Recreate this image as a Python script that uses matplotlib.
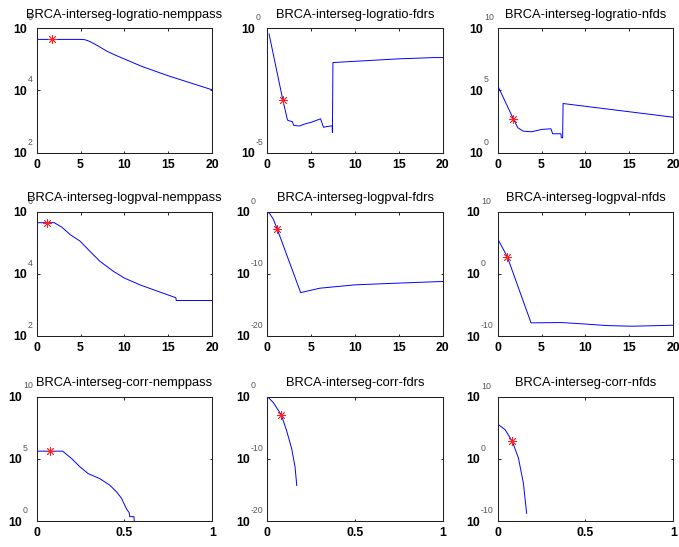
import matplotlib
matplotlib.use("Agg")
import matplotlib.pyplot as plt
from matplotlib.transforms import offset_copy

plt.rcParams['font.family'] = ['Liberation Sans', 'DejaVu Sans']

# curves are stored as (x, log10(y)); the y axes are logarithmic
lr_nemppass_x = [0, 1, 2, 3, 4, 5, 5.5, 6, 7, 8, 9, 10, 11, 12, 13, 14, 15, 16, 17, 18, 19, 20]
lr_nemppass_e = [5.64, 5.64, 5.64, 5.64, 5.64, 5.64, 5.63, 5.58, 5.43, 5.26, 5.13, 5.01, 4.89,
                 4.77, 4.67, 4.57, 4.47, 4.38, 4.29, 4.20, 4.11, 4.02]
lr_nemppass_best = (1.7, 5.64)

lr_fdrs_x = [0.2, 1.78, 2.3, 2.5, 2.85, 3.0, 3.7, 4.0, 4.55, 5.0, 6.07, 6.4, 6.8, 7.4, 7.42,
             7.48, 10, 15, 19, 20]
lr_fdrs_e = [-0.23, -2.9, -3.69, -3.72, -3.75, -3.9, -3.93, -3.88, -3.82, -3.78, -3.64, -3.98,
             -3.95, -3.92, -4.19, -1.38, -1.33, -1.23, -1.18, -1.18]
lr_fdrs_best = (1.78, -2.9)

lr_nfds_x = [0, 1.78, 2.3, 2.9, 3.87, 5.0, 6.07, 6.26, 7.2, 7.25, 7.4, 7.45, 20]
lr_nfds_e = [5.39, 2.72, 2.0, 1.73, 1.68, 1.87, 1.92, 1.52, 1.52, 1.2, 1.2, 3.95, 2.85]
lr_nfds_best = (1.78, 2.72)

pv_nemppass_x = [0, 2.0, 2.85, 3.8, 4.93, 6.07, 7.2, 8.73, 10, 11.8, 13.66, 15.86, 15.9, 20]
pv_nemppass_e = [5.64, 5.64, 5.50, 5.26, 5.05, 4.72, 4.40, 4.08, 3.86, 3.64, 3.45, 3.23, 3.14, 3.14]
pv_nemppass_best = (1.14, 5.64)

pv_fdrs_x = [0, 0.3, 0.69, 1.14, 3.8, 6, 10, 14.8, 20]
pv_fdrs_e = [0, -0.4, -1.24, -2.86, -13.03, -12.32, -11.78, -11.51, -11.24]
pv_fdrs_best = (1.14, -2.86)

pv_nfds_x = [0, 1.1, 3.8, 7.3, 10.3, 12.4, 15.3, 20]
pv_nfds_e = [5.62, 2.70, -7.89, -7.84, -8.11, -8.32, -8.43, -8.27]
pv_nfds_best = (1.1, 2.70)

cr_nemppass_x = [0, 0.148, 0.2, 0.247, 0.294, 0.36, 0.417, 0.455, 0.484, 0.497, 0.512, 0.527,
                 0.530, 0.554, 0.556]
cr_nemppass_e = [5.61, 5.61, 5.0, 4.34, 3.80, 3.40, 2.87, 2.34, 1.81, 1.41, 0.96, 0.67, 0.35,
                 0.35, 0.0]
cr_nemppass_best = (0.076, 5.61)

cr_fdrs_x = [0, 0.034, 0.08, 0.11, 0.139, 0.158, 0.168]
cr_fdrs_e = [0, -0.96, -2.98, -5.48, -8.40, -11.3, -14.3]
cr_fdrs_best = (0.08, -2.98)

cr_nfds_x = [0, 0.042, 0.083, 0.118, 0.146, 0.165]
cr_nfds_e = [5.57, 4.67, 2.8, 0.13, -3.87, -8.77]
cr_nfds_best = (0.083, 2.8)

titles = ['BRCA-interseg-logratio-nemppass', 'BRCA-interseg-logratio-fdrs', 'BRCA-interseg-logratio-nfds',
          'BRCA-interseg-logpval-nemppass', 'BRCA-interseg-logpval-fdrs', 'BRCA-interseg-logpval-nfds',
          'BRCA-interseg-corr-nemppass', 'BRCA-interseg-corr-fdrs', 'BRCA-interseg-corr-nfds']
curves = [(lr_nemppass_x, lr_nemppass_e, lr_nemppass_best),
          (lr_fdrs_x, lr_fdrs_e, lr_fdrs_best),
          (lr_nfds_x, lr_nfds_e, lr_nfds_best),
          (pv_nemppass_x, pv_nemppass_e, pv_nemppass_best),
          (pv_fdrs_x, pv_fdrs_e, pv_fdrs_best),
          (pv_nfds_x, pv_nfds_e, pv_nfds_best),
          (cr_nemppass_x, cr_nemppass_e, cr_nemppass_best),
          (cr_fdrs_x, cr_fdrs_e, cr_fdrs_best),
          (cr_nfds_x, cr_nfds_e, cr_nfds_best)]
y_exps = [[2, 4, 6], [-5, 0], [0, 5, 10],
          [2, 4, 6], [-20, -10, 0], [-10, 0, 10],
          [0, 5, 10], [-20, -10, 0], [-10, 0, 10]]
x_ticks_thr = [0, 5, 10, 15, 20]
x_ticks_corr = [0, 0.5, 1]
x_labels_corr = ['0', '0.5', '1']

W, H = 679, 547
fig = plt.figure(figsize=(W / 100, H / 100), dpi=100)
lefts = [36.7, 267.3, 497.7]
bottoms = [152.7, 336.0, 521.0]
aw, ah = 175.5, 124.5
tick_fs = 8.8

def exp_width(s):
    # rough pixel width of the small exponent text
    return sum(2.9 if c == '-' else 4.9 for c in s)

for i in range(9):
    r, c = divmod(i, 3)
    ax = fig.add_axes([lefts[c] / W, 1 - bottoms[r] / H, aw / W, ah / H])
    xs, es, best = curves[i]
    ax.plot(xs, [10.0 ** e for e in es], color='#0000ff', lw=0.7)
    ax.plot([best[0]], [10.0 ** best[1]], linestyle='none', marker=(8, 2, 0),
            ms=6.5, mec='#ff2020', mew=0.6)
    ax.set_yscale('log')
    ex = y_exps[i]
    ax.set_ylim(10.0 ** min(ex), 10.0 ** max(ex))
    ax.yaxis.set_minor_locator(matplotlib.ticker.NullLocator())
    maxw = max(exp_width(str(e)) for e in ex)
    ax.set_yticks([10.0 ** e for e in ex])
    ax.set_yticklabels(['10'] * len(ex), fontsize=tick_fs, fontweight='bold')
    ax.tick_params(axis='y', pad=(5.0 + maxw) * 0.72)
    # small exponents sit above and to the right of each "10"
    tr = offset_copy(ax.get_yaxis_transform(), fig=fig, x=-(4.0 + maxw), y=10.5, units='dots')
    for e in ex:
        ax.text(0, 10.0 ** e, str(e), transform=tr, ha='left', va='center',
                fontsize=6.3, color='#555555', clip_on=False)
    if r < 2:
        ax.set_xlim(0, 20)
        ax.set_xticks(x_ticks_thr)
        ax.set_xticklabels([str(t) for t in x_ticks_thr], fontsize=tick_fs, fontweight='bold')
    else:
        ax.set_xlim(0, 1)
        ax.set_xticks(x_ticks_corr)
        ax.set_xticklabels(x_labels_corr, fontsize=tick_fs, fontweight='bold')
    ax.tick_params(axis='x', pad=4.2)
    ax.tick_params(direction='in', length=1.8, width=0.7, color='#222222',
                   top=True, right=True)
    for sp in ax.spines.values():
        sp.set_linewidth(0.75)
        sp.set_color('#222222')
    t = ax.set_title(titles[i], fontsize=9.3, pad=7.5)
    t.set_zorder(5)

fig.savefig('out.png', dpi=100)
